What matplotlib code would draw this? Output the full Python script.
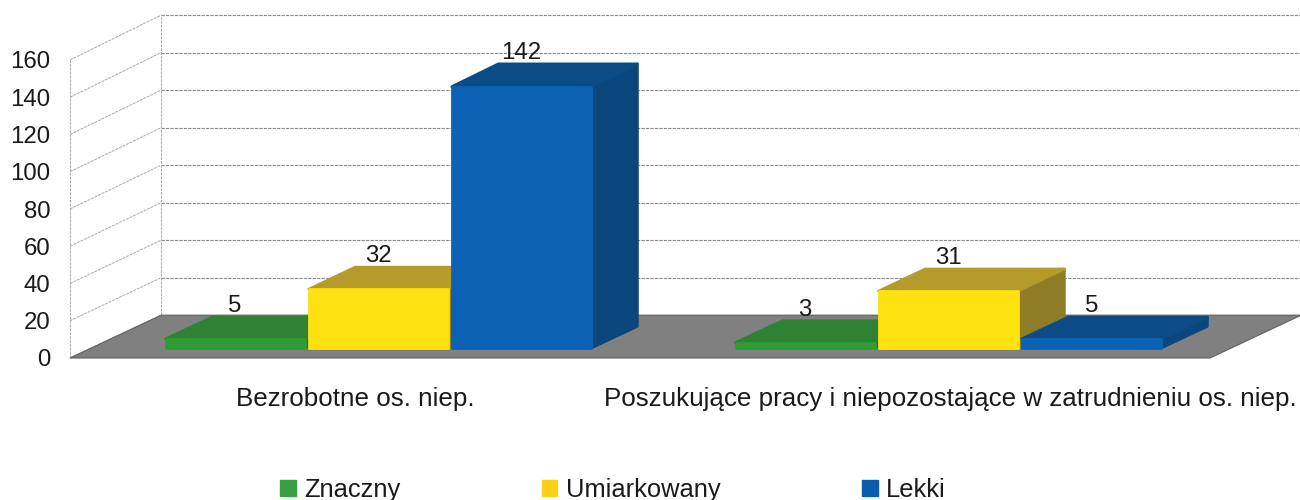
import matplotlib
matplotlib.use('Agg')
import matplotlib.pyplot as plt
from matplotlib.patches import Polygon, Patch

plt.rcParams['font.family'] = ['Liberation Sans', 'DejaVu Sans']

categories = ['Bezrobotne os. niep.', 'Poszukujące pracy i niepozostające w zatrudnieniu os. niep.']
series_names = ['Znaczny', 'Umiarkowany', 'Lekki']
znaczny = [5, 3]
umiarkowany = [32, 31]
lekki = [142, 5]
yticks = [0, 20, 40, 60, 80, 100, 120, 140, 160]

front_colors = ['#2f9b35', '#ffe010', '#0b62b4']
top_colors = ['#2f8233', '#b59c2a', '#0c4c86']
side_colors = ['#256e2a', '#8f7c26', '#0b477c']
legend_colors = ['#35a040', '#fdd017', '#0b5cad']

# depth of the fake 3d box, in x (category) and y (value) units
DX = 0.16
DY = 23.0
bar_w = 0.244
bar_step = 0.251
group_start = 0.131
d_front = 0.23
d_back = 0.74
bar_scale = 0.987
FS = 17.3
FS_LABEL = 18.7
FS_LEGEND = 18.4


def proj(x, v, d):
    return (x + d * DX, v * (1 + 0.007 * d) + d * DY)


def box(ax, x, val, i, z):
    x1 = x + bar_w
    h = val * bar_scale
    front = [proj(x, 0, d_front), proj(x1, 0, d_front), proj(x1, h, d_front), proj(x, h, d_front)]
    top = [proj(x, h, d_front), proj(x1, h, d_front), proj(x1, h, d_back), proj(x, h, d_back)]
    side = [proj(x1, 0, d_front), proj(x1, 0, d_back), proj(x1, h, d_back), proj(x1, h, d_front)]
    ax.add_patch(Polygon(side, closed=True, fc=side_colors[i], ec=side_colors[i], lw=2, joinstyle='round', zorder=z))
    ax.add_patch(Polygon(top, closed=True, fc=top_colors[i], ec=top_colors[i], lw=2, joinstyle='round', zorder=z))
    ax.add_patch(Polygon(front, closed=True, fc=front_colors[i], ec=front_colors[i], lw=2, joinstyle='round', zorder=z + 0.1))
    lx, ly = proj(x + bar_w / 2, h, d_back)
    ax.text(lx - (d_back - d_front) * DX, ly, str(val), ha='center', va='bottom', fontsize=FS, color='#1a1a1a', zorder=50)


fig = plt.figure(figsize=(13, 5), dpi=100)
# axes box is the front plane of the chart
ax = fig.add_axes([70 / 1300, 1 - 358 / 500, 1140 / 1300, 298 / 500])
ax.set_xlim(0, 2)
ax.set_ylim(0, 160)
ax.patch.set_visible(False)
for s in ax.spines.values():
    s.set_visible(False)

grid = dict(color='#8a8a8a', lw=0.8, ls=(0, (3, 1)), zorder=1)
wall = {**grid, 'color': '#a8a8a8', 'lw': 0.7}
for v in yticks:
    a = proj(0, v, 0)
    b = proj(0, v, 1)
    c = proj(2, v, 1)
    ax.plot([a[0], b[0]], [a[1], b[1]], clip_on=False, **wall)
    if v > 0:
        ax.plot([b[0], c[0]], [b[1], c[1]], clip_on=False, **grid)
ax.plot([0, 0], [0, 160], clip_on=False, **wall)
bx = proj(0, 0, 1)
tx = proj(0, 160, 1)
ax.plot([bx[0], tx[0]], [bx[1], tx[1]], clip_on=False, **wall)

floor = [proj(0, 0, 0), proj(2, 0, 0), proj(2, 0, 1), proj(0, 0, 1)]
ax.add_patch(Polygon(floor, closed=True, fc='#808080', ec='#606060', lw=0.8, zorder=2, clip_on=False))

z = 5
for g in range(len(categories)):
    for i, vals in enumerate([znaczny, umiarkowany, lekki]):
        box(ax, g + group_start + i * bar_step, vals[g], i, z)
        z += 1

ax.set_yticks(yticks)
ax.set_yticklabels([str(v) for v in yticks], fontsize=FS, color='#1a1a1a')
ax.set_xticks([0.5, 1.545])
ax.set_xticklabels(categories, fontsize=FS_LABEL, color='#1a1a1a')
ax.tick_params(axis='both', length=0)
ax.tick_params(axis='x', pad=21)
ax.tick_params(axis='y', pad=14)

handles = [Patch(fc=c, ec=c, label=n) for c, n in zip(legend_colors, series_names)]
fig.legend(handles=handles, ncol=3, loc='center', bbox_to_anchor=(613 / 1300, 1 - 490 / 500),
           frameon=False, fontsize=FS_LEGEND, columnspacing=5.55, handlelength=0.6, handleheight=0.6,
           handletextpad=0.33, labelcolor='#1a1a1a')

fig.savefig('out.png', dpi=100, facecolor='white')
